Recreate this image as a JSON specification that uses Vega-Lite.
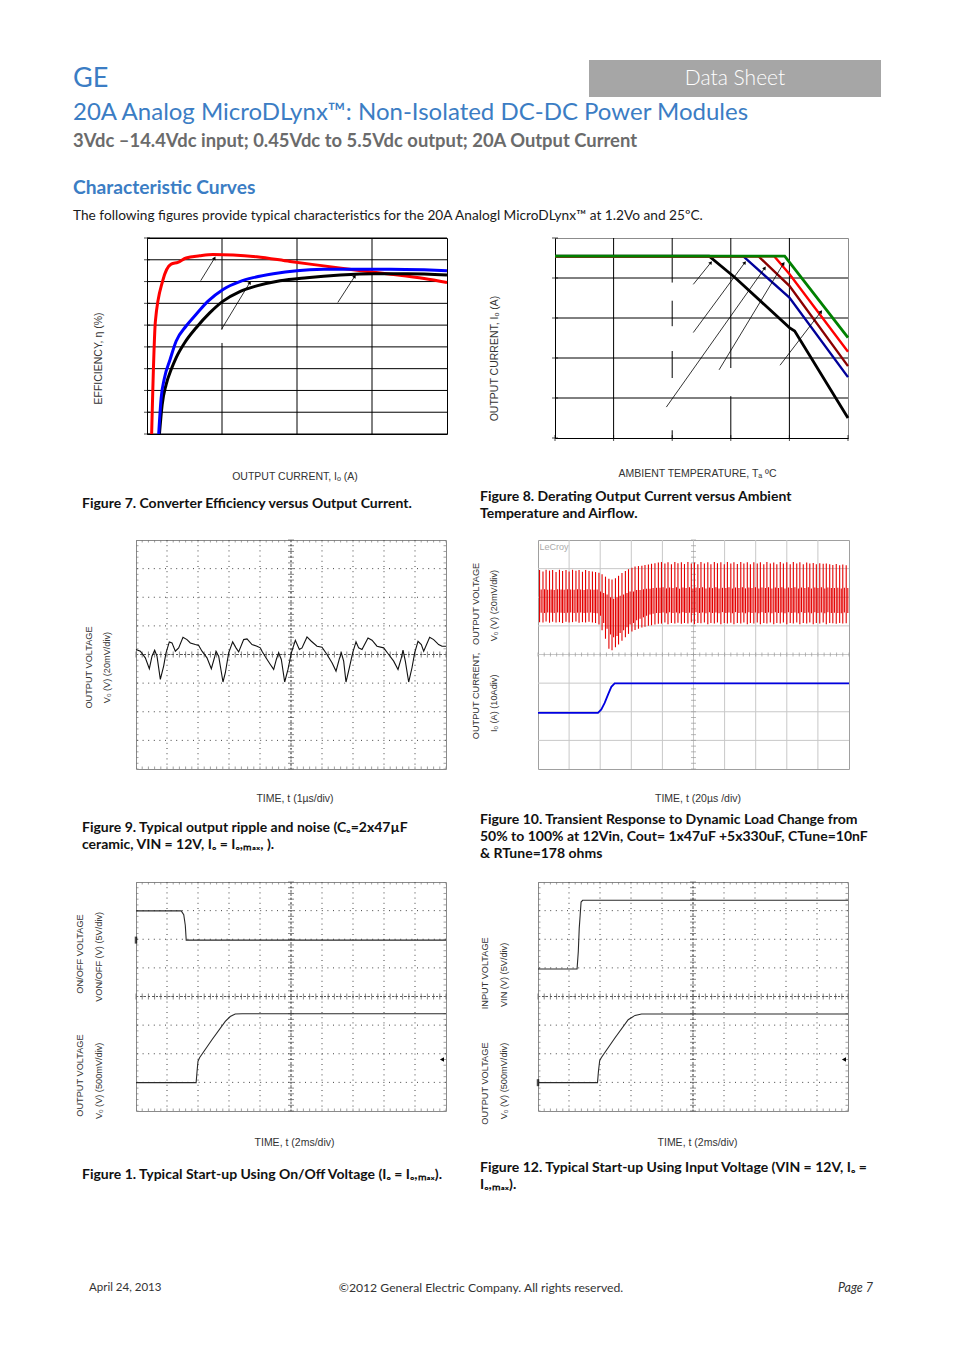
{
"$schema": "https://vega.github.io/schema/vega-lite/v6.json",
"background": "white",
"padding": 0,
"spacing": 0,
"config": {
  "view": {"stroke": null},
  "font": "Lato",
  "concat": {"spacing": 0},
  "axis": {"grid": false, "labels": false, "domain": false, "ticks": false, "titleFont": "Liberation Sans", "titleFontSize": 10.5, "titleFontWeight": "normal", "titleColor": "#333333"}
},
"datasets": {
  "eff": [
    {"vin":"Vin=3.3V","current":0.31,"eff":50},{"vin":"Vin=3.3V","current":0.56,"eff":75.9},{"vin":"Vin=3.3V","current":1.05,"eff":85.2},{"vin":"Vin=3.3V","current":1.61,"eff":89.0},{"vin":"Vin=3.3V","current":2.06,"eff":89.4},{"vin":"Vin=3.3V","current":2.61,"eff":90.4},{"vin":"Vin=3.3V","current":3.51,"eff":90.9},{"vin":"Vin=3.3V","current":4.4,"eff":91.2},{"vin":"Vin=3.3V","current":5.74,"eff":91.1},{"vin":"Vin=3.3V","current":7.31,"eff":90.7},{"vin":"Vin=3.3V","current":9.54,"eff":89.6},{"vin":"Vin=3.3V","current":11.78,"eff":88.6},{"vin":"Vin=3.3V","current":14.01,"eff":87.6},{"vin":"Vin=3.3V","current":16.25,"eff":86.7},{"vin":"Vin=3.3V","current":18.48,"eff":85.7},{"vin":"Vin=3.3V","current":20,"eff":84.8},
    {"vin":"Vin=12V","current":0.83,"eff":50},{"vin":"Vin=12V","current":1.01,"eff":56.7},{"vin":"Vin=12V","current":1.27,"eff":61.3},{"vin":"Vin=12V","current":1.61,"eff":64.8},{"vin":"Vin=12V","current":1.94,"eff":67.5},{"vin":"Vin=12V","current":2.5,"eff":70.9},{"vin":"Vin=12V","current":3.28,"eff":74.4},{"vin":"Vin=12V","current":4.18,"eff":77.8},{"vin":"Vin=12V","current":5.07,"eff":80.5},{"vin":"Vin=12V","current":6.19,"eff":82.7},{"vin":"Vin=12V","current":7.31,"eff":84.0},{"vin":"Vin=12V","current":8.87,"eff":85.2},{"vin":"Vin=12V","current":10.66,"eff":85.9},{"vin":"Vin=12V","current":12.89,"eff":86.5},{"vin":"Vin=12V","current":15.13,"eff":86.8},{"vin":"Vin=12V","current":17.36,"eff":86.8},{"vin":"Vin=12V","current":20,"eff":86.5},
    {"vin":"Vin=5V","current":0.78,"eff":50},{"vin":"Vin=5V","current":0.94,"eff":58.2},{"vin":"Vin=5V","current":1.16,"eff":62.8},{"vin":"Vin=5V","current":1.54,"eff":67.1},{"vin":"Vin=5V","current":1.94,"eff":71.3},{"vin":"Vin=5V","current":2.61,"eff":74.8},{"vin":"Vin=5V","current":3.28,"eff":77.5},{"vin":"Vin=5V","current":4.07,"eff":80.5},{"vin":"Vin=5V","current":5.07,"eff":83.2},{"vin":"Vin=5V","current":6.19,"eff":85.0},{"vin":"Vin=5V","current":7.08,"eff":85.9},{"vin":"Vin=5V","current":8.42,"eff":86.8},{"vin":"Vin=5V","current":9.99,"eff":87.5},{"vin":"Vin=5V","current":11.78,"eff":87.8},{"vin":"Vin=5V","current":14.01,"eff":87.85},{"vin":"Vin=5V","current":16.25,"eff":87.85},{"vin":"Vin=5V","current":18.48,"eff":87.7},{"vin":"Vin=5V","current":20,"eff":87.5}
  ],
  "effarrows": [
    {"current":3.58,"eff":85.2,"current2":4.51,"eff2":90.4},{"current":4.96,"eff":74.0,"current2":6.86,"eff2":84.8},{"current":12.72,"eff":80.2,"current2":13.85,"eff2":86.2}
  ],
  "effgaps": [{"current":4.8,"current2":5.2,"eff":70.9,"eff2":74.0}],
  "g7x": [{"current":5},{"current":10},{"current":15}],
  "g7y": [{"eff":50},{"eff":55},{"eff":60},{"eff":65},{"eff":70},{"eff":75},{"eff":80},{"eff":85},{"eff":90},{"eff":95}],
  "derate": [
    {"air":"NC","temp":35,"current":20},{"air":"NC","temp":61.3,"current":20},{"air":"NC","temp":65.7,"current":17.66},{"air":"NC","temp":75,"current":12.14},{"air":"NC","temp":75.9,"current":11.77},{"air":"NC","temp":85,"current":2.21},
    {"air":"0.5m/s","temp":35,"current":20},{"air":"0.5m/s","temp":67.1,"current":20},{"air":"0.5m/s","temp":75,"current":15.45},{"air":"0.5m/s","temp":85,"current":6.7},
    {"air":"1m/s","temp":35,"current":20},{"air":"1m/s","temp":69.7,"current":20},{"air":"1m/s","temp":75,"current":16.74},{"air":"1m/s","temp":85,"current":7.91},
    {"air":"1.5m/s","temp":35,"current":20},{"air":"1.5m/s","temp":72.4,"current":20},{"air":"1.5m/s","temp":75,"current":18.03},{"air":"1.5m/s","temp":85,"current":9.49},
    {"air":"2m/s","temp":35,"current":20},{"air":"2m/s","temp":74.2,"current":20},{"air":"2m/s","temp":85,"current":11.04}
  ],
  "derarrows": [
    {"temp":58.6,"current":16.9,"temp2":61.6,"current2":19.3},{"temp":58.6,"current":11.6,"temp2":67.4,"current2":19.3},{"temp":54.0,"current":3.4,"temp2":70.8,"current2":18.7},{"temp":63.0,"current":7.5,"temp2":74.0,"current2":19.2},{"temp":73.4,"current":8.0,"temp2":80.4,"current2":13.9}
  ],
  "dergaps": [
    {"temp":54.3,"temp2":55.7,"current":15.1,"current2":17.1},{"temp":54.3,"temp2":55.7,"current":9.57,"current2":12.3},{"temp":54.3,"temp2":55.7,"current":0.85,"current2":6.6},{"temp":64.3,"temp2":65.7,"current":4.6,"current2":7.7}
  ],
  "g8xg": [{"temp":45},{"temp":55},{"temp":65},{"temp":75}],
  "g8xt": [{"temp":35},{"temp":45},{"temp":55},{"temp":65},{"temp":75},{"temp":85}],
  "g8yg": [{"current":4.4},{"current":8.8},{"current":13.2},{"current":17.6}],
  "g8yt": [{"current":0},{"current":4.4},{"current":8.8},{"current":13.2},{"current":17.6},{"current":22}],
  "ripple": [
    {"t":0.0,"v":0.174},{"t":0.14,"v":0.116},{"t":0.301,"v":-0.116},{"t":0.43,"v":-0.498},{"t":0.516,"v":-0.058},{"t":0.602,"v":0.15},{"t":0.677,"v":-0.058},{"t":0.785,"v":-0.869},{"t":0.892,"v":-0.405},{"t":0.968,"v":0.058},{"t":1.075,"v":0.44},{"t":1.161,"v":0.405},{"t":1.269,"v":0.116},{"t":1.376,"v":0.232},{"t":1.516,"v":0.602},{"t":1.645,"v":0.521},{"t":1.753,"v":0.405},{"t":1.914,"v":0.348},{"t":2.022,"v":0.313},{"t":2.129,"v":0.116},{"t":2.29,"v":-0.116},{"t":2.43,"v":-0.498},{"t":2.538,"v":-0.081},{"t":2.581,"v":0.116},{"t":2.667,"v":-0.058},{"t":2.806,"v":-0.961},{"t":2.882,"v":-0.637},{"t":2.989,"v":0.058},{"t":3.118,"v":0.44},{"t":3.226,"v":0.232},{"t":3.312,"v":0.093},{"t":3.473,"v":0.521},{"t":3.581,"v":0.544},{"t":3.742,"v":0.348},{"t":3.903,"v":0.29},{"t":4.011,"v":0.232},{"t":4.065,"v":0.116},{"t":4.172,"v":-0.081},{"t":4.333,"v":-0.348},{"t":4.441,"v":-0.521},{"t":4.527,"v":-0.174},{"t":4.602,"v":0.058},{"t":4.688,"v":-0.174},{"t":4.796,"v":-0.961},{"t":4.903,"v":-0.521},{"t":5.011,"v":0.058},{"t":5.14,"v":0.498},{"t":5.269,"v":0.174},{"t":5.355,"v":0.232},{"t":5.516,"v":0.614},{"t":5.656,"v":0.463},{"t":5.839,"v":0.29},{"t":6.0,"v":0.255},{"t":6.161,"v":0.0},{"t":6.323,"v":-0.29},{"t":6.452,"v":-0.579},{"t":6.559,"v":-0.15},{"t":6.624,"v":0.058},{"t":6.699,"v":-0.232},{"t":6.774,"v":-0.961},{"t":6.882,"v":-0.463},{"t":6.989,"v":0.058},{"t":7.097,"v":0.44},{"t":7.183,"v":0.232},{"t":7.29,"v":0.174},{"t":7.484,"v":0.579},{"t":7.613,"v":0.498},{"t":7.774,"v":0.29},{"t":7.989,"v":0.232},{"t":8.151,"v":0.0},{"t":8.312,"v":-0.232},{"t":8.452,"v":-0.521},{"t":8.559,"v":-0.116},{"t":8.613,"v":0.15},{"t":8.688,"v":-0.232},{"t":8.796,"v":-0.961},{"t":8.903,"v":-0.463},{"t":8.989,"v":0.058},{"t":9.097,"v":0.463},{"t":9.204,"v":0.348},{"t":9.28,"v":0.116},{"t":9.473,"v":0.602},{"t":9.602,"v":0.521},{"t":9.763,"v":0.348},{"t":9.871,"v":0.29},{"t":10.0,"v":0.29}
  ],
  "ring": [
    {"t":0.05,"v":2.95,"v2":1.13,"c":2.27,"c2":1.46},{"t":0.16,"v":2.9,"v2":1.12,"c":2.28,"c2":1.45},{"t":0.26,"v":2.96,"v2":1.15,"c":2.26,"c2":1.47},{"t":0.37,"v":2.93,"v2":1.11,"c":2.27,"c2":1.46},{"t":0.47,"v":2.95,"v2":1.14,"c":2.25,"c2":1.45},{"t":0.58,"v":2.88,"v2":1.12,"c":2.28,"c2":1.47},{"t":0.69,"v":2.96,"v2":1.13,"c":2.27,"c2":1.46},{"t":0.79,"v":2.92,"v2":1.1,"c":2.26,"c2":1.45},{"t":0.9,"v":2.95,"v2":1.14,"c":2.28,"c2":1.46},{"t":1.0,"v":2.9,"v2":1.12,"c":2.27,"c2":1.47},{"t":1.11,"v":2.96,"v2":1.13,"c":2.26,"c2":1.45},{"t":1.22,"v":2.93,"v2":1.15,"c":2.28,"c2":1.46},{"t":1.32,"v":2.95,"v2":1.11,"c":2.27,"c2":1.47},{"t":1.43,"v":2.89,"v2":1.13,"c":2.25,"c2":1.45},{"t":1.53,"v":2.95,"v2":1.12,"c":2.28,"c2":1.46},{"t":1.64,"v":2.92,"v2":1.14,"c":2.27,"c2":1.47},{"t":1.75,"v":2.9,"v2":1.12,"c":2.26,"c2":1.45},{"t":1.85,"v":2.88,"v2":1.1,"c":2.27,"c2":1.44},
    {"t":1.96,"v":2.86,"v2":1.05,"c":2.2,"c2":1.35},{"t":2.06,"v":2.8,"v2":0.85,"c":2.15,"c2":1.1},{"t":2.17,"v":2.72,"v2":0.55,"c":2.1,"c2":0.9},{"t":2.28,"v":2.65,"v2":0.2,"c":2.0,"c2":0.7},{"t":2.38,"v":2.62,"v2":0.15,"c":1.95,"c2":0.6},{"t":2.49,"v":2.66,"v2":0.25,"c":2.0,"c2":0.65},{"t":2.59,"v":2.75,"v2":0.35,"c":2.05,"c2":0.75},{"t":2.7,"v":2.85,"v2":0.48,"c":2.1,"c2":0.85},{"t":2.81,"v":2.92,"v2":0.6,"c":2.15,"c2":0.95},{"t":2.91,"v":2.98,"v2":0.72,"c":2.2,"c2":1.05},{"t":3.02,"v":3.03,"v2":0.8,"c":2.2,"c2":1.1},{"t":3.12,"v":3.07,"v2":0.86,"c":2.25,"c2":1.2},{"t":3.23,"v":3.09,"v2":0.9,"c":2.25,"c2":1.25},{"t":3.34,"v":3.1,"v2":0.94,"c":2.28,"c2":1.3},{"t":3.44,"v":3.13,"v2":0.97,"c":2.3,"c2":1.35},{"t":3.55,"v":3.14,"v2":1.0,"c":2.3,"c2":1.4},{"t":3.65,"v":3.17,"v2":1.02,"c":2.32,"c2":1.42},{"t":3.76,"v":3.19,"v2":1.05,"c":2.33,"c2":1.45},{"t":3.87,"v":3.21,"v2":1.07,"c":2.33,"c2":1.45},
    {"t":3.97,"v":3.23,"v2":1.08,"c":2.35,"c2":1.47},{"t":4.08,"v":3.18,"v2":1.12,"c":2.31,"c2":1.44},{"t":4.18,"v":3.22,"v2":1.06,"c":2.34,"c2":1.48},{"t":4.29,"v":3.15,"v2":1.1,"c":2.32,"c2":1.45},{"t":4.4,"v":3.23,"v2":1.08,"c":2.35,"c2":1.47},{"t":4.5,"v":3.19,"v2":1.11,"c":2.3,"c2":1.44},{"t":4.61,"v":3.22,"v2":1.07,"c":2.34,"c2":1.48},{"t":4.71,"v":3.16,"v2":1.1,"c":2.32,"c2":1.45},{"t":4.82,"v":3.23,"v2":1.08,"c":2.35,"c2":1.46},{"t":4.93,"v":3.18,"v2":1.12,"c":2.31,"c2":1.44},{"t":5.03,"v":3.21,"v2":1.06,"c":2.34,"c2":1.48},{"t":5.14,"v":3.15,"v2":1.1,"c":2.32,"c2":1.45},{"t":5.24,"v":3.23,"v2":1.09,"c":2.35,"c2":1.47},{"t":5.35,"v":3.18,"v2":1.12,"c":2.31,"c2":1.44},{"t":5.46,"v":3.22,"v2":1.06,"c":2.34,"c2":1.48},{"t":5.56,"v":3.15,"v2":1.1,"c":2.32,"c2":1.45},{"t":5.67,"v":3.23,"v2":1.08,"c":2.35,"c2":1.47},{"t":5.77,"v":3.19,"v2":1.12,"c":2.31,"c2":1.44},{"t":5.88,"v":3.22,"v2":1.06,"c":2.33,"c2":1.48},{"t":5.99,"v":3.15,"v2":1.1,"c":2.32,"c2":1.45},{"t":6.09,"v":3.23,"v2":1.08,"c":2.35,"c2":1.47},{"t":6.2,"v":3.18,"v2":1.11,"c":2.31,"c2":1.44},{"t":6.3,"v":3.22,"v2":1.06,"c":2.34,"c2":1.48},{"t":6.41,"v":3.16,"v2":1.1,"c":2.32,"c2":1.45},{"t":6.52,"v":3.23,"v2":1.08,"c":2.35,"c2":1.47},{"t":6.62,"v":3.18,"v2":1.12,"c":2.31,"c2":1.44},{"t":6.73,"v":3.22,"v2":1.06,"c":2.34,"c2":1.48},{"t":6.83,"v":3.15,"v2":1.1,"c":2.32,"c2":1.45},{"t":6.94,"v":3.22,"v2":1.08,"c":2.35,"c2":1.47},{"t":7.05,"v":3.18,"v2":1.12,"c":2.31,"c2":1.44},{"t":7.15,"v":3.22,"v2":1.06,"c":2.34,"c2":1.48},{"t":7.26,"v":3.15,"v2":1.1,"c":2.32,"c2":1.45},{"t":7.36,"v":3.23,"v2":1.08,"c":2.35,"c2":1.47},{"t":7.47,"v":3.18,"v2":1.12,"c":2.31,"c2":1.44},{"t":7.58,"v":3.21,"v2":1.06,"c":2.34,"c2":1.48},{"t":7.68,"v":3.15,"v2":1.1,"c":2.32,"c2":1.45},{"t":7.79,"v":3.23,"v2":1.08,"c":2.35,"c2":1.47},{"t":7.89,"v":3.18,"v2":1.12,"c":2.31,"c2":1.44},{"t":8.0,"v":3.22,"v2":1.06,"c":2.34,"c2":1.48},{"t":8.11,"v":3.15,"v2":1.1,"c":2.32,"c2":1.45},{"t":8.21,"v":3.23,"v2":1.08,"c":2.35,"c2":1.47},{"t":8.32,"v":3.18,"v2":1.12,"c":2.31,"c2":1.44},{"t":8.42,"v":3.22,"v2":1.06,"c":2.34,"c2":1.48},{"t":8.53,"v":3.15,"v2":1.1,"c":2.32,"c2":1.45},{"t":8.64,"v":3.21,"v2":1.08,"c":2.35,"c2":1.47},{"t":8.74,"v":3.18,"v2":1.12,"c":2.31,"c2":1.44},{"t":8.85,"v":3.2,"v2":1.06,"c":2.34,"c2":1.48},{"t":8.95,"v":3.15,"v2":1.1,"c":2.32,"c2":1.45},{"t":9.06,"v":3.19,"v2":1.08,"c":2.35,"c2":1.47},{"t":9.17,"v":3.17,"v2":1.12,"c":2.31,"c2":1.44},{"t":9.27,"v":3.18,"v2":1.06,"c":2.34,"c2":1.48},{"t":9.38,"v":3.15,"v2":1.1,"c":2.32,"c2":1.45},{"t":9.48,"v":3.13,"v2":1.09,"c":2.32,"c2":1.46},{"t":9.59,"v":3.16,"v2":1.07,"c":2.33,"c2":1.45},{"t":9.7,"v":3.12,"v2":1.1,"c":2.31,"c2":1.44},{"t":9.8,"v":3.14,"v2":1.08,"c":2.33,"c2":1.47},{"t":9.91,"v":3.12,"v2":1.09,"c":2.32,"c2":1.45}
  ],
  "iout": [
    {"t":0,"v":-2.04},{"t":1.929,"v":-2.04},{"t":2.036,"v":-1.92},{"t":2.144,"v":-1.69},{"t":2.251,"v":-1.4},{"t":2.358,"v":-1.13},{"t":2.465,"v":-1.01},{"t":10,"v":-1.01}
  ],
  "su1": [
    {"s":"onoff","t":0,"v":2.99},{"s":"onoff","t":1.46,"v":2.99},{"s":"onoff","t":1.54,"v":2.86},{"s":"onoff","t":1.59,"v":2.49},{"s":"onoff","t":1.62,"v":1.97},{"s":"onoff","t":10,"v":1.97},
    {"s":"vo","t":0,"v":-3.01},{"s":"vo","t":1.94,"v":-3.01},{"s":"vo","t":1.97,"v":-2.61},{"s":"vo","t":2.0,"v":-2.26},{"s":"vo","t":2.05,"v":-2.14},{"s":"vo","t":2.45,"v":-1.51},{"s":"vo","t":2.88,"v":-0.87},{"s":"vo","t":3.04,"v":-0.7},{"s":"vo","t":3.2,"v":-0.61},{"s":"vo","t":3.42,"v":-0.6},{"s":"vo","t":10,"v":-0.6}
  ],
  "su2": [
    {"s":"vin","t":0,"v":0.96},{"s":"vin","t":1.26,"v":0.96},{"s":"vin","t":1.3,"v":1.57},{"s":"vin","t":1.33,"v":2.38},{"s":"vin","t":1.36,"v":2.84},{"s":"vin","t":1.39,"v":3.3},{"s":"vin","t":1.44,"v":3.36},{"s":"vin","t":10,"v":3.36},
    {"s":"vo","t":0,"v":-3.01},{"s":"vo","t":1.92,"v":-3.01},{"s":"vo","t":1.95,"v":-2.61},{"s":"vo","t":1.99,"v":-2.24},{"s":"vo","t":2.04,"v":-2.14},{"s":"vo","t":2.48,"v":-1.45},{"s":"vo","t":2.91,"v":-0.81},{"s":"vo","t":3.13,"v":-0.66},{"s":"vo","t":3.34,"v":-0.61},{"s":"vo","t":10,"v":-0.61}
  ],
  "gx": [{"t":1},{"t":2},{"t":3},{"t":4},{"t":5},{"t":6},{"t":7},{"t":8},{"t":9}],
  "gy": [{"v":-3},{"v":-2},{"v":-1},{"v":0},{"v":1},{"v":2},{"v":3}],
  "xt": [{"t":0},{"t":0.2},{"t":0.4},{"t":0.6},{"t":0.8},{"t":1},{"t":1.2},{"t":1.4},{"t":1.6},{"t":1.8},{"t":2},{"t":2.2},{"t":2.4},{"t":2.6},{"t":2.8},{"t":3},{"t":3.2},{"t":3.4},{"t":3.6},{"t":3.8},{"t":4},{"t":4.2},{"t":4.4},{"t":4.6},{"t":4.8},{"t":5},{"t":5.2},{"t":5.4},{"t":5.6},{"t":5.8},{"t":6},{"t":6.2},{"t":6.4},{"t":6.6},{"t":6.8},{"t":7},{"t":7.2},{"t":7.4},{"t":7.6},{"t":7.8},{"t":8},{"t":8.2},{"t":8.4},{"t":8.6},{"t":8.8},{"t":9},{"t":9.2},{"t":9.4},{"t":9.6},{"t":9.8},{"t":10}],
  "yt": [{"v":-4},{"v":-3.8},{"v":-3.6},{"v":-3.4},{"v":-3.2},{"v":-3},{"v":-2.8},{"v":-2.6},{"v":-2.4},{"v":-2.2},{"v":-2},{"v":-1.8},{"v":-1.6},{"v":-1.4},{"v":-1.2},{"v":-1},{"v":-0.8},{"v":-0.6},{"v":-0.4},{"v":-0.2},{"v":0},{"v":0.2},{"v":0.4},{"v":0.6},{"v":0.8},{"v":1},{"v":1.2},{"v":1.4},{"v":1.6},{"v":1.8},{"v":2},{"v":2.2},{"v":2.4},{"v":2.6},{"v":2.8},{"v":3},{"v":3.2},{"v":3.4},{"v":3.6},{"v":3.8},{"v":4}]
},
"vconcat": [
  {"width":1,"height":60,"data":{"values":[]},"mark":"point"},
  {"hconcat":[
    {"width":146,"height":37,"data":{"values":[{"s":"GE"}]},"mark":{"type":"text","align":"left","baseline":"middle","font":"Lato","fontSize":27,"color":"#3b7dc4"},"encoding":{"text":{"field":"s","type":"nominal"}}},
    {"width":443,"height":1,"data":{"values":[]},"mark":"point"},
    {"width":292,"height":37,"view":{"fill":"#a6a6a6"},"data":{"values":[{"s":"Data Sheet"}]},"mark":{"type":"text","align":"center","baseline":"middle","font":"Lato","fontSize":21,"fontWeight":300,"color":"white"},"encoding":{"text":{"field":"s","type":"nominal"}}}
  ],"spacing":0,"bounds":"flush"},
  {"width":146,"height":32,"data":{"values":[{"s":"20A Analog MicroDLynx™: Non-Isolated DC-DC Power Modules"}]},"mark":{"type":"text","align":"left","baseline":"middle","font":"Lato","fontSize":24,"color":"#3b7dc4"},"encoding":{"text":{"field":"s","type":"nominal"}}},
  {"width":146,"height":24,"data":{"values":[{"s":"3Vdc –14.4Vdc input; 0.45Vdc to 5.5Vdc output; 20A Output Current"}]},"mark":{"type":"text","align":"left","baseline":"middle","font":"Lato","fontSize":18.4,"fontWeight":"bold","color":"#6b6b6b"},"encoding":{"text":{"field":"s","type":"nominal"}}},
  {"width":1,"height":23,"data":{"values":[]},"mark":"point"},
  {"width":146,"height":24,"data":{"values":[{"s":"Characteristic Curves"}]},"mark":{"type":"text","align":"left","baseline":"middle","font":"Lato","fontSize":19.2,"fontWeight":"bold","color":"#3b7dc4"},"encoding":{"text":{"field":"s","type":"nominal"}}},
  {"width":146,"height":32,"data":{"values":[{"s":"The following figures provide typical characteristics for the 20A Analogl MicroDLynx™ at 1.2Vo and 25ºC."}]},"mark":{"type":"text","align":"left","baseline":"middle","font":"Lato","fontSize":13.7,"color":"#1a1a1a"},"encoding":{"text":{"field":"s","type":"nominal"}}},
  {"width":1,"height":5,"data":{"values":[]},"mark":"point"},
  {"hconcat":[
    {"width":147,"height":248,"data":{"values":[]},"mark":"point"},
    {"width":300,"height":196,"view":{"stroke":"black","strokeWidth":1},
     "layer":[
       {"data":{"name":"g7x"},"mark":{"type":"rule","color":"black","strokeWidth":1},"encoding":{"x":{"field":"current","type":"quantitative"}}},
       {"data":{"name":"effgaps"},"mark":{"type":"rect","color":"white","opacity":1},"encoding":{"x":{"field":"current","type":"quantitative"},"x2":{"field":"current2"},"y":{"field":"eff","type":"quantitative"},"y2":{"field":"eff2"}}},
       {"data":{"name":"g7y"},"mark":{"type":"rule","color":"black","strokeWidth":1},"encoding":{"y":{"field":"eff","type":"quantitative"}}},
       {"data":{"name":"g7y"},"mark":{"type":"tick","orient":"horizontal","size":6,"thickness":1,"color":"black"},"encoding":{"x":{"datum":0},"y":{"field":"eff","type":"quantitative"}}},
       {"data":{"name":"eff"},"mark":{"type":"line","strokeWidth":3,"interpolate":"monotone"},
        "encoding":{
          "x":{"field":"current","type":"quantitative","scale":{"domain":[0,20],"nice":false,"zero":false},
               "axis":{"title":"OUTPUT CURRENT, Iₒ (A)","titlePadding":37,"titleX":147.5}},
          "y":{"field":"eff","type":"quantitative","scale":{"domain":[50,95],"nice":false,"zero":false},
               "axis":{"title":"EFFICIENCY, η (%)","titlePadding":44,"titleY":120}},
          "color":{"field":"vin","type":"nominal","scale":{"domain":["Vin=3.3V","Vin=12V","Vin=5V"],"range":["#ff0000","#000000","#0000ff"]},"legend":null}
        }},
       {"data":{"name":"effarrows"},"mark":{"type":"rule","color":"black","strokeWidth":0.8},
        "encoding":{"x":{"field":"current","type":"quantitative"},"y":{"field":"eff","type":"quantitative"},"x2":{"field":"current2"},"y2":{"field":"eff2"}}},
       {"data":{"name":"effarrows"},"mark":{"type":"point","shape":"triangle-up","angle":31,"filled":true,"size":16,"color":"black","opacity":1},
        "encoding":{"x":{"field":"current2","type":"quantitative"},"y":{"field":"eff2","type":"quantitative"}}}
     ]},
    {"width":108,"height":1,"data":{"values":[]},"mark":"point"},
    {"width":293,"height":200,"view":{"stroke":"#8c8c8c","strokeWidth":1},
     "layer":[
       {"data":{"name":"g8xg"},"mark":{"type":"rule","color":"black","strokeWidth":1},"encoding":{"x":{"field":"temp","type":"quantitative"}}},
       {"data":{"name":"dergaps"},"mark":{"type":"rect","color":"white","opacity":1},"encoding":{"x":{"field":"temp","type":"quantitative"},"x2":{"field":"temp2"},"y":{"field":"current","type":"quantitative"},"y2":{"field":"current2"}}},
       {"data":{"name":"g8yg"},"mark":{"type":"rule","color":"black","strokeWidth":1},"encoding":{"y":{"field":"current","type":"quantitative"}}},
       {"data":{"name":"g8yt"},"mark":{"type":"tick","orient":"horizontal","size":6,"thickness":1,"color":"black"},"encoding":{"x":{"datum":35},"y":{"field":"current","type":"quantitative"}}},
       {"data":{"name":"g8xt"},"mark":{"type":"tick","orient":"vertical","size":6,"thickness":1,"color":"black"},"encoding":{"x":{"field":"temp","type":"quantitative"},"y":{"datum":0}}},
       {"data":{"name":"derate"},"transform":[{"filter":"datum.air === 'NC'"}],"mark":{"type":"line","strokeWidth":2.8,"color":"#000000"},
        "encoding":{
          "x":{"field":"temp","type":"quantitative","scale":{"domain":[35,85],"nice":false,"zero":false},
               "axis":{"domain":true,"domainColor":"black","title":"AMBIENT TEMPERATURE, Tₐ ºC","titlePadding":30,"titleX":142}},
          "y":{"field":"current","type":"quantitative","scale":{"domain":[0,22],"nice":false,"zero":false},
               "axis":{"domain":true,"domainColor":"black","title":"OUTPUT CURRENT, Iₒ (A)","titlePadding":56,"titleY":120}}
        }},
       {"data":{"name":"derate"},"transform":[{"filter":"datum.air === '0.5m/s'"}],"mark":{"type":"line","strokeWidth":2.4,"color":"#000099"},"encoding":{"x":{"field":"temp","type":"quantitative"},"y":{"field":"current","type":"quantitative"}}},
       {"data":{"name":"derate"},"transform":[{"filter":"datum.air === '1m/s'"}],"mark":{"type":"line","strokeWidth":2.4,"color":"#8b0000"},"encoding":{"x":{"field":"temp","type":"quantitative"},"y":{"field":"current","type":"quantitative"}}},
       {"data":{"name":"derate"},"transform":[{"filter":"datum.air === '1.5m/s'"}],"mark":{"type":"line","strokeWidth":2.4,"color":"#ff0000"},"encoding":{"x":{"field":"temp","type":"quantitative"},"y":{"field":"current","type":"quantitative"}}},
       {"data":{"name":"derate"},"transform":[{"filter":"datum.air === '2m/s'"}],"mark":{"type":"line","strokeWidth":2.8,"color":"#008000"},"encoding":{"x":{"field":"temp","type":"quantitative"},"y":{"field":"current","type":"quantitative"}}},
       {"data":{"name":"derarrows"},"mark":{"type":"rule","color":"black","strokeWidth":0.8},
        "encoding":{"x":{"field":"temp","type":"quantitative"},"y":{"field":"current","type":"quantitative"},"x2":{"field":"temp2"},"y2":{"field":"current2"}}},
       {"data":{"name":"derarrows"},"mark":{"type":"point","shape":"triangle-up","angle":36,"filled":true,"size":16,"color":"black","opacity":1},
        "encoding":{"x":{"field":"temp2","type":"quantitative"},"y":{"field":"current2","type":"quantitative"}}}
     ]}
  ],"spacing":0,"bounds":"flush"},
  {"hconcat":[
    {"width":164,"height":36,"data":{"values":[{"s":"Figure 7. Converter Efficiency versus Output Current."}]},"mark":{"type":"text","align":"left","baseline":"middle","font":"Lato","fontSize":14,"fontWeight":"bold","color":"#111111","lineBreak":"\n","lineHeight":17},"encoding":{"text":{"field":"s","type":"nominal"}}},
    {"width":632,"height":22,"data":{"values":[{"s":"Figure 8. Derating Output Current versus Ambient\nTemperature and Airflow."}]},"mark":{"type":"text","align":"left","baseline":"middle","font":"Lato","fontSize":14,"fontWeight":"bold","color":"#111111","lineBreak":"\n","lineHeight":17},"encoding":{"text":{"field":"s","type":"nominal"}}},
    {"width":1,"height":45,"data":{"values":[]},"mark":"point"}
  ],"spacing":0,"bounds":"flush"},
  {"width":1,"height":8,"data":{"values":[]},"mark":"point"},
  {"hconcat":[
    {"width":136,"height":270,"data":{"values":[]},"mark":"point"},
    {"width":310,"height":229,"view":{"stroke":"#8a8a8a","strokeWidth":1},
     "layer":[
       {"data":{"name":"gx"},"mark":{"type":"rule","color":"#444444","strokeWidth":1,"strokeDash":[1,4.2]},"encoding":{"x":{"field":"t","type":"quantitative"}}},
       {"data":{"name":"gy"},"mark":{"type":"rule","color":"#444444","strokeWidth":1,"strokeDash":[1,4.6]},"encoding":{"y":{"field":"v","type":"quantitative"}}},
       {"data":{"values":[{}]},"mark":{"type":"rule","color":"#555555","strokeDash":[2,2]},"encoding":{"x":{"datum":5}}},
       {"data":{"values":[{}]},"mark":{"type":"rule","color":"#555555","strokeDash":[2,2]},"encoding":{"y":{"datum":0}}},
       {"data":{"name":"yt"},"mark":{"type":"tick","orient":"horizontal","size":6,"thickness":1,"color":"#555555"},"encoding":{"x":{"datum":5},"y":{"field":"v","type":"quantitative"}}},
       {"data":{"name":"xt"},"mark":{"type":"tick","orient":"vertical","size":6,"thickness":1,"color":"#555555"},"encoding":{"x":{"field":"t","type":"quantitative"},"y":{"datum":0}}},
       {"data":{"name":"yt"},"mark":{"type":"tick","orient":"horizontal","size":5,"thickness":1,"color":"#777777","clip":true},"encoding":{"x":{"datum":0},"y":{"field":"v","type":"quantitative"}}},
       {"data":{"name":"yt"},"mark":{"type":"tick","orient":"horizontal","size":5,"thickness":1,"color":"#777777","clip":true},"encoding":{"x":{"datum":10},"y":{"field":"v","type":"quantitative"}}},
       {"data":{"name":"xt"},"mark":{"type":"tick","orient":"vertical","size":5,"thickness":1,"color":"#777777","clip":true},"encoding":{"x":{"field":"t","type":"quantitative"},"y":{"datum":-4}}},
       {"data":{"name":"xt"},"mark":{"type":"tick","orient":"vertical","size":5,"thickness":1,"color":"#777777","clip":true},"encoding":{"x":{"field":"t","type":"quantitative"},"y":{"datum":4}}},
       {"data":{"name":"ripple"},"mark":{"type":"line","color":"#111111","strokeWidth":1.1},
        "encoding":{
          "x":{"field":"t","type":"quantitative","scale":{"domain":[0,10],"nice":false,"zero":false},
               "axis":{"title":"TIME, t (1µs/div)","titlePadding":24,"titleX":158.5}},
          "y":{"field":"v","type":"quantitative","scale":{"domain":[-4,4],"nice":false,"zero":false},
               "axis":{"title":["OUTPUT VOLTAGE","Vₒ (V) (20mV/div)"],"titleFontSize":9.2,"titleLineHeight":18,"titlePadding":25,"titleY":127}}
        }}
     ]},
    {"width":92,"height":1,"data":{"values":[]},"mark":"point"},
    {"width":311,"height":229,"view":{"stroke":"#a0a0a0","strokeWidth":1},
     "layer":[
       {"data":{"name":"gx"},"mark":{"type":"rule","color":"#c8c8c8","strokeWidth":1},"encoding":{"x":{"field":"t","type":"quantitative"}}},
       {"data":{"name":"gy"},"mark":{"type":"rule","color":"#c8c8c8","strokeWidth":1},"encoding":{"y":{"field":"v","type":"quantitative"}}},
       {"data":{"name":"yt"},"mark":{"type":"tick","orient":"horizontal","size":5,"thickness":1,"color":"#999999"},"encoding":{"x":{"datum":5},"y":{"field":"v","type":"quantitative"}}},
       {"data":{"name":"xt"},"mark":{"type":"tick","orient":"vertical","size":4,"thickness":1,"color":"#999999"},"encoding":{"x":{"field":"t","type":"quantitative"},"y":{"datum":0}}},
       {"data":{"values":[{}]},"mark":{"type":"text","text":"LeCroy","align":"left","baseline":"middle","font":"Liberation Sans","fontSize":9,"color":"#aaaaaa"},"encoding":{"x":{"datum":0.05},"y":{"datum":3.75}}},
       {"data":{"name":"ring"},"mark":{"type":"rule","color":"#e40000","strokeWidth":1.1},"encoding":{"x":{"field":"t","type":"quantitative"},"y":{"field":"v","type":"quantitative"},"y2":{"field":"v2"}}},
       {"data":{"name":"ring"},"mark":{"type":"rule","color":"#e40000","strokeWidth":1.1,"xOffset":1.6},"encoding":{"x":{"field":"t","type":"quantitative"},"y":{"field":"c","type":"quantitative"},"y2":{"field":"c2"}}},
       {"data":{"name":"iout"},"mark":{"type":"line","color":"#0000e0","strokeWidth":1.8},
        "encoding":{
          "x":{"field":"t","type":"quantitative","scale":{"domain":[0,10],"nice":false,"zero":false},
               "axis":{"title":"TIME, t (20µs /div)","titlePadding":24,"titleX":159.5}},
          "y":{"field":"v","type":"quantitative","scale":{"domain":[-4,4],"nice":false,"zero":false},
               "axis":{"title":["OUTPUT CURRENT,\u00a0\u00a0\u00a0OUTPUT VOLTAGE","Iₒ (A) (10Adiv)\u00a0\u00a0\u00a0\u00a0\u00a0\u00a0\u00a0\u00a0\u00a0\u00a0\u00a0\u00a0\u00a0Vₒ (V) (20mV/div)"],"titleFontSize":9.2,"titleLineHeight":18,"titlePadding":40,"titleY":110.5}}
        }}
     ]}
  ],"spacing":0,"bounds":"flush"},
  {"hconcat":[
    {"width":164,"height":36,"data":{"values":[{"s":"Figure 9. Typical output ripple and noise (Cₒ=2x47µF\nceramic, VIN = 12V, Iₒ = Iₒ,ₘₐₓ, )."}]},"mark":{"type":"text","align":"left","baseline":"middle","font":"Lato","fontSize":14,"fontWeight":"bold","color":"#111111","lineBreak":"\n","lineHeight":17},"encoding":{"text":{"field":"s","type":"nominal"}}},
    {"width":632,"height":20,"data":{"values":[{"s":"Figure 10. Transient Response to Dynamic Load Change from\n50% to 100% at 12Vin, Cout= 1x47uF +5x330uF, CTune=10nF\n& RTune=178 ohms"}]},"mark":{"type":"text","align":"left","baseline":"middle","font":"Lato","fontSize":14,"fontWeight":"bold","color":"#111111","lineBreak":"\n","lineHeight":17},"encoding":{"text":{"field":"s","type":"nominal"}}},
    {"width":1,"height":60,"data":{"values":[]},"mark":"point"}
  ],"spacing":0,"bounds":"flush"},
  {"width":1,"height":11,"data":{"values":[]},"mark":"point"},
  {"hconcat":[
    {"width":136,"height":270,"data":{"values":[]},"mark":"point"},
    {"width":310,"height":229,"view":{"stroke":"#8a8a8a","strokeWidth":1},
     "layer":[
       {"data":{"name":"gx"},"mark":{"type":"rule","color":"#444444","strokeWidth":1,"strokeDash":[1,4.2]},"encoding":{"x":{"field":"t","type":"quantitative"}}},
       {"data":{"name":"gy"},"mark":{"type":"rule","color":"#444444","strokeWidth":1,"strokeDash":[1,4.6]},"encoding":{"y":{"field":"v","type":"quantitative"}}},
       {"data":{"values":[{}]},"mark":{"type":"rule","color":"#555555","strokeDash":[2,2]},"encoding":{"x":{"datum":5}}},
       {"data":{"values":[{}]},"mark":{"type":"rule","color":"#555555","strokeDash":[2,2]},"encoding":{"y":{"datum":0}}},
       {"data":{"name":"yt"},"mark":{"type":"tick","orient":"horizontal","size":6,"thickness":1,"color":"#555555"},"encoding":{"x":{"datum":5},"y":{"field":"v","type":"quantitative"}}},
       {"data":{"name":"xt"},"mark":{"type":"tick","orient":"vertical","size":6,"thickness":1,"color":"#555555"},"encoding":{"x":{"field":"t","type":"quantitative"},"y":{"datum":0}}},
       {"data":{"name":"yt"},"mark":{"type":"tick","orient":"horizontal","size":5,"thickness":1,"color":"#777777","clip":true},"encoding":{"x":{"datum":0},"y":{"field":"v","type":"quantitative"}}},
       {"data":{"name":"yt"},"mark":{"type":"tick","orient":"horizontal","size":5,"thickness":1,"color":"#777777","clip":true},"encoding":{"x":{"datum":10},"y":{"field":"v","type":"quantitative"}}},
       {"data":{"name":"xt"},"mark":{"type":"tick","orient":"vertical","size":5,"thickness":1,"color":"#777777","clip":true},"encoding":{"x":{"field":"t","type":"quantitative"},"y":{"datum":-4}}},
       {"data":{"name":"xt"},"mark":{"type":"tick","orient":"vertical","size":5,"thickness":1,"color":"#777777","clip":true},"encoding":{"x":{"field":"t","type":"quantitative"},"y":{"datum":4}}},
       {"data":{"values":[{"t":9.87,"v":-2.2}]},"mark":{"type":"point","shape":"triangle-left","filled":true,"size":22,"color":"black","opacity":1},"encoding":{"x":{"field":"t","type":"quantitative"},"y":{"field":"v","type":"quantitative"}}},
       {"data":{"values":[{"t":0,"v":1.97}]},"mark":{"type":"tick","orient":"vertical","size":7,"thickness":2.5,"color":"black"},"encoding":{"x":{"field":"t","type":"quantitative"},"y":{"field":"v","type":"quantitative"}}},
       {"data":{"name":"su1"},"mark":{"type":"line","color":"#2a2a2a","strokeWidth":1.1},
        "encoding":{
          "detail":{"field":"s","type":"nominal"},
          "x":{"field":"t","type":"quantitative","scale":{"domain":[0,10],"nice":false,"zero":false},
               "axis":{"title":"TIME, t (2ms/div)","titlePadding":26,"titleX":158}},
          "y":{"field":"v","type":"quantitative","scale":{"domain":[-4,4],"nice":false,"zero":false},
               "axis":{"title":["OUTPUT VOLTAGE\u00a0\u00a0\u00a0\u00a0\u00a0\u00a0\u00a0\u00a0\u00a0\u00a0\u00a0\u00a0\u00a0\u00a0\u00a0\u00a0ON/OFF VOLTAGE","Vₒ (V) (500mV/div)\u00a0\u00a0\u00a0\u00a0\u00a0\u00a0\u00a0\u00a0\u00a0\u00a0\u00a0\u00a0\u00a0\u00a0\u00a0\u00a0VON/OFF (V) (5V/div)"],"titleFontSize":9.2,"titleLineHeight":19,"titlePadding":33,"titleY":133}}
        }}
     ]},
    {"width":92,"height":1,"data":{"values":[]},"mark":"point"},
    {"width":310,"height":229,"view":{"stroke":"#8a8a8a","strokeWidth":1},
     "layer":[
       {"data":{"name":"gx"},"mark":{"type":"rule","color":"#444444","strokeWidth":1,"strokeDash":[1,4.2]},"encoding":{"x":{"field":"t","type":"quantitative"}}},
       {"data":{"name":"gy"},"mark":{"type":"rule","color":"#444444","strokeWidth":1,"strokeDash":[1,4.6]},"encoding":{"y":{"field":"v","type":"quantitative"}}},
       {"data":{"values":[{}]},"mark":{"type":"rule","color":"#555555","strokeDash":[2,2]},"encoding":{"x":{"datum":5}}},
       {"data":{"values":[{}]},"mark":{"type":"rule","color":"#555555","strokeDash":[2,2]},"encoding":{"y":{"datum":0}}},
       {"data":{"name":"yt"},"mark":{"type":"tick","orient":"horizontal","size":6,"thickness":1,"color":"#555555"},"encoding":{"x":{"datum":5},"y":{"field":"v","type":"quantitative"}}},
       {"data":{"name":"xt"},"mark":{"type":"tick","orient":"vertical","size":6,"thickness":1,"color":"#555555"},"encoding":{"x":{"field":"t","type":"quantitative"},"y":{"datum":0}}},
       {"data":{"name":"yt"},"mark":{"type":"tick","orient":"horizontal","size":5,"thickness":1,"color":"#777777","clip":true},"encoding":{"x":{"datum":0},"y":{"field":"v","type":"quantitative"}}},
       {"data":{"name":"yt"},"mark":{"type":"tick","orient":"horizontal","size":5,"thickness":1,"color":"#777777","clip":true},"encoding":{"x":{"datum":10},"y":{"field":"v","type":"quantitative"}}},
       {"data":{"name":"xt"},"mark":{"type":"tick","orient":"vertical","size":5,"thickness":1,"color":"#777777","clip":true},"encoding":{"x":{"field":"t","type":"quantitative"},"y":{"datum":-4}}},
       {"data":{"name":"xt"},"mark":{"type":"tick","orient":"vertical","size":5,"thickness":1,"color":"#777777","clip":true},"encoding":{"x":{"field":"t","type":"quantitative"},"y":{"datum":4}}},
       {"data":{"values":[{"t":9.87,"v":-2.2}]},"mark":{"type":"point","shape":"triangle-left","filled":true,"size":22,"color":"black","opacity":1},"encoding":{"x":{"field":"t","type":"quantitative"},"y":{"field":"v","type":"quantitative"}}},
       {"data":{"values":[{"t":0,"v":-3.01}]},"mark":{"type":"tick","orient":"vertical","size":7,"thickness":2.5,"color":"black"},"encoding":{"x":{"field":"t","type":"quantitative"},"y":{"field":"v","type":"quantitative"}}},
       {"data":{"name":"su2"},"mark":{"type":"line","color":"#2a2a2a","strokeWidth":1.1},
        "encoding":{
          "detail":{"field":"s","type":"nominal"},
          "x":{"field":"t","type":"quantitative","scale":{"domain":[0,10],"nice":false,"zero":false},
               "axis":{"title":"TIME, t (2ms/div)","titlePadding":26,"titleX":159}},
          "y":{"field":"v","type":"quantitative","scale":{"domain":[-4,4],"nice":false,"zero":false},
               "axis":{"title":["OUTPUT VOLTAGE\u00a0\u00a0\u00a0\u00a0\u00a0\u00a0\u00a0\u00a0\u00a0\u00a0\u00a0\u00a0\u00a0INPUT VOLTAGE","Vₒ (V) (500mV/div)\u00a0\u00a0\u00a0\u00a0\u00a0\u00a0\u00a0\u00a0\u00a0\u00a0\u00a0\u00a0\u00a0\u00a0VIN (V) (5V/div)"],"titleFontSize":9.2,"titleLineHeight":19,"titlePadding":30,"titleY":148.5}}
        }}
     ]}
  ],"spacing":0,"bounds":"flush"},
  {"hconcat":[
    {"width":164,"height":46,"data":{"values":[{"s":"Figure 1. Typical Start-up Using On/Off Voltage (Iₒ = Iₒ,ₘₐₓ)."}]},"mark":{"type":"text","align":"left","baseline":"middle","font":"Lato","fontSize":14,"fontWeight":"bold","color":"#111111","lineBreak":"\n","lineHeight":17},"encoding":{"text":{"field":"s","type":"nominal"}}},
    {"width":632,"height":32,"data":{"values":[{"s":"Figure 12. Typical Start-up Using Input Voltage (VIN = 12V, Iₒ =\nIₒ,ₘₐₓ)."}]},"mark":{"type":"text","align":"left","baseline":"middle","font":"Lato","fontSize":14,"fontWeight":"bold","color":"#111111","lineBreak":"\n","lineHeight":17},"encoding":{"text":{"field":"s","type":"nominal"}}},
    {"width":1,"height":60,"data":{"values":[]},"mark":"point"}
  ],"spacing":0,"bounds":"flush"},
  {"width":1,"height":59,"data":{"values":[]},"mark":"point"},
  {"hconcat":[
    {"width":178,"height":34,"data":{"values":[{"s":"April 24, 2013"}]},"mark":{"type":"text","align":"left","baseline":"middle","font":"Lato","fontSize":11.5,"color":"#333333"},"encoding":{"text":{"field":"s","type":"nominal"}}},
    {"width":606,"height":34,"data":{"values":[{"s":"©2012 General Electric Company. All rights reserved."}]},"mark":{"type":"text","align":"center","baseline":"middle","font":"Lato","fontSize":12.2,"color":"#333333"},"encoding":{"text":{"field":"s","type":"nominal"}}},
    {"width":178,"height":34,"data":{"values":[{"s":"Page 7"}]},"mark":{"type":"text","align":"right","baseline":"middle","font":"Lato","fontSize":12.5,"fontStyle":"italic","color":"#333333"},"encoding":{"text":{"field":"s","type":"nominal"}}}
  ],"spacing":0,"bounds":"flush"}
]
}
